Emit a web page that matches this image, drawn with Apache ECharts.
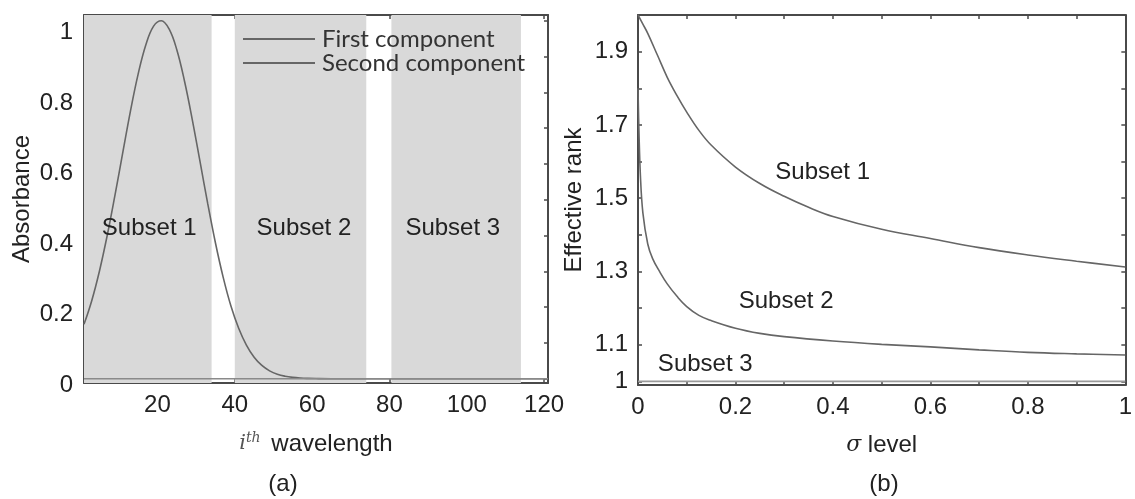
<!DOCTYPE html>
<html><head><meta charset="utf-8">
<script src="https://cdn.jsdelivr.net/npm/echarts@6/dist/echarts.min.js"></script>
<style>html,body{margin:0;padding:0;background:#fff}#c{width:1135px;height:499px}</style>
</head><body><div id="c"></div>
<script>
// ---- (a) absorbance data ----
const wavelength = [1,3,5,7,9,11,13,15,17,19,21,23,25,27,29,31,33,35,37,39,41,43,45,47,49,51,53,55,57,59,61,65,70,80,90,100,110,121];
const firstComponent = [0.152,0.218,0.301,0.400,0.512,0.630,0.747,0.851,0.933,0.985,1.0,0.977,0.919,0.831,0.724,0.607,0.489,0.379,0.283,0.203,0.141,0.094,0.060,0.037,0.022,0.0125,0.0069,0.0036,0.0018,0.0009,0.0004,0,0,0,0,0,0,0];
const secondWavelength = [1,121];
const secondComponent = [0,0];
const bandStart = [1,40,80.5];
const bandEnd = [34,74,114];
const leftYTicks = [0,0.1,0.2,0.3,0.4,0.5,0.6,0.7,0.8,0.9,1];
const leftYLabels = [0,0.2,0.4,0.6,0.8,1];
const leftXTicks = [20,40,60,80,100,120];
const legendNames = ['First component','Second component'];
const subsetNames = ['Subset 1','Subset 2','Subset 3'];

// ---- (b) effective rank data ----
const sigma1 = [0,0.01,0.02,0.04,0.06,0.08,0.1,0.125,0.15,0.2,0.25,0.3,0.35,0.4,0.5,0.6,0.7,0.8,0.9,1];
const rank1 = [2.0,1.975,1.95,1.89,1.83,1.78,1.735,1.685,1.645,1.585,1.54,1.505,1.475,1.45,1.415,1.39,1.365,1.345,1.328,1.312];
const sigma2 = [0,0.002,0.005,0.01,0.02,0.03,0.045,0.06,0.08,0.1,0.125,0.15,0.2,0.25,0.3,0.4,0.5,0.6,0.7,0.8,0.9,1];
const rank2 = [1.80,1.68,1.56,1.46,1.375,1.335,1.298,1.266,1.232,1.204,1.18,1.166,1.145,1.131,1.122,1.11,1.101,1.094,1.086,1.079,1.075,1.072];
const sigma3 = [0,1];
const rank3 = [1,1];
const rightXTicks = [0,0.1,0.2,0.3,0.4,0.5,0.6,0.7,0.8,0.9,1];
const rightXLabels = [0,0.2,0.4,0.6,0.8,1];
const rightYTicks = [1,1.1,1.2,1.3,1.4,1.5,1.6,1.7,1.8,1.9];
const rightYLabels = [1,1.1,1.3,1.5,1.7,1.9];

// annotation anchor points (data coordinates)
const leftNoteX = [18,58,96.5], leftNoteY = [0.418,0.418,0.418];
const rightNoteX = [0.38,0.305,0.139], rightNoteY = [1.569,1.218,1.046];

const FONT = 'Liberation Sans';
const TXT = '#222';
const FRAME = '#4a4a4a';
const CURVE = '#666';
const FS = 24;

const zip = (a,b) => a.map((v,i)=>[v,b[i]]);

function frameAxis(extra){
  return Object.assign({
    type:'value',
    axisLine:{show:true,onZero:false,lineStyle:{color:FRAME,width:2}},
    axisTick:{show:true,inside:true,length:4,lineStyle:{color:FRAME,width:1.5}},
    axisLabel:{show:false},
    splitLine:{show:false}
  }, extra);
}

const noteLabel = {show:true, position:[0,0], align:'center', verticalAlign:'middle',
  formatter:p=>p.name, fontSize:FS, color:TXT, fontFamily:FONT, opacity:1,
  textBorderWidth:0, textShadowBlur:0};

const chart = echarts.init(document.getElementById('c'), null, {renderer:'canvas'});
const option = {
  animation:false,
  backgroundColor:'#fff',
  textStyle:{fontFamily:FONT},
  grid:[
    {left:84, top:15, width:464, height:368},
    {left:638, top:15, width:489, height:370},
    {left:84, top:32.5, width:464, height:352.5}
  ],
  xAxis:[
    frameAxis({gridIndex:0, position:'bottom', min:1, max:121,
      axisTick:{show:true,inside:true,length:4,customValues:leftXTicks,lineStyle:{color:FRAME,width:1.5}},
      axisLabel:{show:true, customValues:leftXTicks, margin:10, fontSize:FS, color:TXT, fontFamily:FONT},
      name:'{i|i}{s|th} wavelength', nameLocation:'middle', nameGap:48,
      nameTextStyle:{fontSize:FS, color:TXT, fontFamily:FONT,
        rich:{i:{fontFamily:'DejaVu Serif',fontStyle:'italic',fontSize:21,color:'#555'},
              s:{fontFamily:'DejaVu Serif',fontStyle:'italic',fontSize:14,color:'#555',padding:[0,4,12,0]}}}}),
    frameAxis({gridIndex:0, position:'top', min:1, max:121,
      axisTick:{show:true,inside:true,length:4,customValues:leftXTicks,lineStyle:{color:FRAME,width:1.5}}}),
    frameAxis({gridIndex:1, position:'bottom', min:0, max:1,
      axisTick:{show:true,inside:true,length:4,customValues:rightXTicks,lineStyle:{color:FRAME,width:1.5}},
      axisLabel:{show:true, customValues:rightXLabels, margin:10, fontSize:FS, color:TXT, fontFamily:FONT},
      name:'{g|σ} level', nameLocation:'middle', nameGap:48,
      nameTextStyle:{fontSize:FS, color:TXT, fontFamily:FONT,
        rich:{g:{fontFamily:'DejaVu Serif',fontStyle:'italic',fontSize:22,color:TXT}}}}),
    frameAxis({gridIndex:1, position:'top', min:0, max:1,
      axisTick:{show:true,inside:true,length:4,customValues:rightXTicks,lineStyle:{color:FRAME,width:1.5}}}),
    {type:'value', gridIndex:2, min:1, max:121, show:false}
  ],
  yAxis:[
    frameAxis({gridIndex:0, position:'left', min:-0.012, max:1.016,
      axisTick:{show:true,inside:true,length:4,customValues:leftYTicks,lineStyle:{color:FRAME,width:1.5}},
      name:'Absorbance', nameLocation:'middle', nameGap:50,
      nameTextStyle:{fontSize:FS, color:TXT, fontFamily:FONT}}),
    frameAxis({gridIndex:0, position:'right', min:-0.012, max:1.016,
      axisTick:{show:true,inside:true,length:4,customValues:leftYTicks,lineStyle:{color:FRAME,width:1.5}}}),
    frameAxis({gridIndex:1, position:'left', min:0.99, max:2.0,
      axisTick:{show:true,inside:true,length:4,customValues:rightYTicks,lineStyle:{color:FRAME,width:1.5}},
      axisLabel:{show:true, customValues:rightYLabels, margin:10, fontSize:FS, color:TXT, fontFamily:FONT},
      name:'Effective rank', nameLocation:'middle', nameGap:52,
      nameTextStyle:{fontSize:FS, color:TXT, fontFamily:FONT}}),
    frameAxis({gridIndex:1, position:'right', min:0.99, max:2.0,
      axisTick:{show:true,inside:true,length:4,customValues:rightYTicks,lineStyle:{color:FRAME,width:1.5}}}),
    {type:'value', gridIndex:2, position:'left', min:0, max:1, interval:0.2,
      axisLine:{show:false}, axisTick:{show:false}, splitLine:{show:false},
      axisLabel:{show:true, margin:11, fontSize:FS, color:TXT, fontFamily:FONT, customValues:leftYLabels}}
  ],
  legend:{
    data:legendNames, orient:'vertical', left:243, top:27, padding:0,
    icon:'rect', itemWidth:72, itemHeight:2, itemGap:0,
    textStyle:{fontFamily:'Lato', fontSize:24, color:'#333', padding:[0,0,0,2]},
    selectedMode:false
  },
  graphic:[
    {type:'text', x:283, y:484, style:{text:'(a)', font:'24px "Liberation Sans"', fill:TXT, align:'center', verticalAlign:'middle', textAlign:'center', textVerticalAlign:'middle'}},
    {type:'text', x:884, y:484, style:{text:'(b)', font:'24px "Liberation Sans"', fill:TXT, align:'center', verticalAlign:'middle', textAlign:'center', textVerticalAlign:'middle'}}
  ],
  series:[
    {name:legendNames[0], type:'line', xAxisIndex:0, yAxisIndex:0, data:zip(wavelength, firstComponent),
      showSymbol:false, symbol:'none', smooth:0.4, silent:true,
      lineStyle:{color:CURVE, width:1.6}, itemStyle:{color:CURVE}, z:3,
      markArea:{silent:true, itemStyle:{color:'#d9d9d9'},
        data:bandStart.map((s,i)=>[{xAxis:s},{xAxis:bandEnd[i]}])}},
    {name:legendNames[1], type:'line', xAxisIndex:0, yAxisIndex:0, data:zip(secondWavelength, secondComponent),
      showSymbol:false, symbol:'none', silent:true,
      lineStyle:{color:'#8a8a8a', width:1.6}, itemStyle:{color:CURVE}, z:3},
    {name:'notesA', type:'scatter', xAxisIndex:0, yAxisIndex:0, silent:true, symbolSize:1,
      itemStyle:{color:'rgba(0,0,0,0)'},
      data:leftNoteX.map((x,i)=>({value:[x,leftNoteY[i]], name:subsetNames[i]})),
      label:noteLabel, z:5},
    {name:subsetNames[0], type:'line', xAxisIndex:2, yAxisIndex:2, data:zip(sigma1, rank1),
      showSymbol:false, symbol:'none', smooth:0.4, silent:true,
      lineStyle:{color:CURVE, width:1.6}},
    {name:subsetNames[1], type:'line', xAxisIndex:2, yAxisIndex:2, data:zip(sigma2, rank2),
      showSymbol:false, symbol:'none', smooth:0.4, silent:true,
      lineStyle:{color:CURVE, width:1.6}},
    {name:subsetNames[2], type:'line', xAxisIndex:2, yAxisIndex:2, data:zip(sigma3, rank3),
      showSymbol:false, symbol:'none', silent:true,
      lineStyle:{color:'#9a9a9a', width:1.6}},
    {name:'notesB', type:'scatter', xAxisIndex:2, yAxisIndex:2, silent:true, symbolSize:1,
      itemStyle:{color:'rgba(0,0,0,0)'},
      data:rightNoteX.map((x,i)=>({value:[x,rightNoteY[i]], name:subsetNames[i]})),
      label:noteLabel, z:5}
  ]
};
chart.setOption(option);
</script>
</body></html>
